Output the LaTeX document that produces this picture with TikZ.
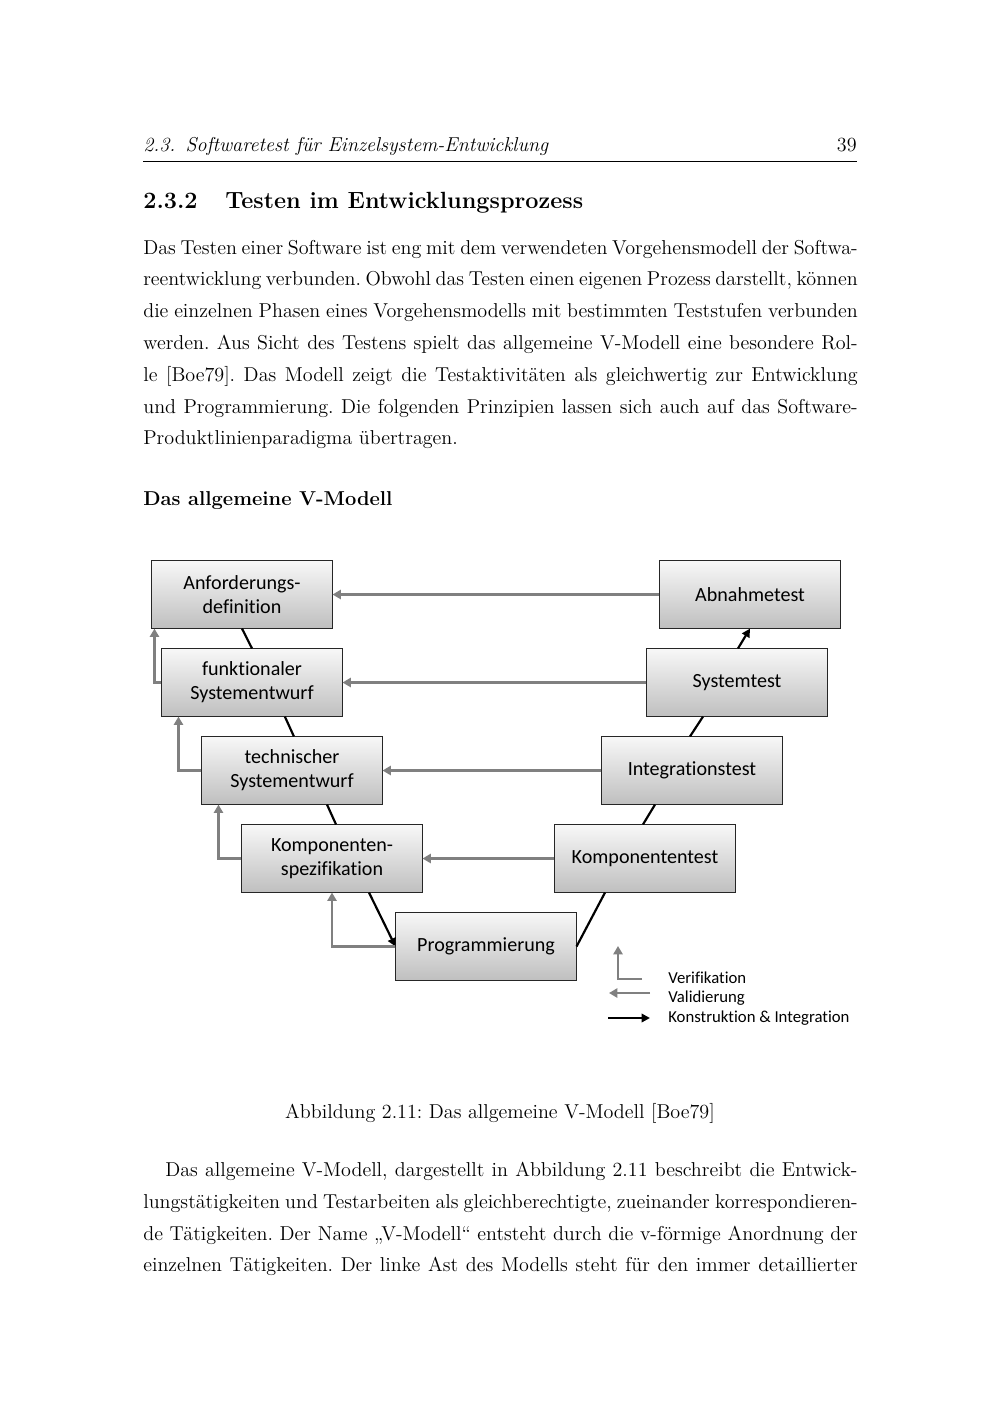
\documentclass[tikz,border=0pt]{standalone}
\usepackage{fontspec}
\newfontfamily\calibri[Ligatures=NoCommon]{Carlito}
\usetikzlibrary{arrows.meta}
\frenchspacing
\tikzset{
  phase/.style={draw=black!85, line width=0.6pt, top color=white!97!black,
    bottom color=black!25, minimum width=3.78cm, minimum height=1.41cm,
    align=center, inner sep=1pt, font=\calibri\fontsize{12}{14.4}\selectfont},
  build/.style={line width=1.3pt, black},
  buildtip/.style={build, -{Triangle[length=5pt,width=5pt]}},
  check/.style={line width=1.5pt, black!50, -{Triangle[length=5pt,width=5.5pt]}},
  legend/.style={anchor=west, inner sep=0pt, font=\calibri\fontsize{10}{12}\selectfont},
  txtline/.style={anchor=base west, inner sep=0pt, font=\fontsize{12}{14.5}\selectfont},
}
\begin{document}
\begin{tikzpicture}[x=0.021cm, y=-0.021cm]
                    \useasboundingbox (0,0) rectangle (1000,1414);
                    %%page head
                    \node[txtline] (head) at (143,152){\itshape 2.3.\hspace{6pt}Softwaretest für Einzelsystem-Entwicklung};
                    \node[txtline, anchor=base east] (pagenr) at (857,152){39};
                    \draw[line width=0.4pt] (143,161) -- (857,161);
                    \node[txtline, font=\fontsize{14}{17}\selectfont\bfseries] (secnr) at (143,209){2.3.2};
                    \node[txtline, font=\fontsize{14}{17}\selectfont\bfseries] (sec) at (225,209){Testen im Entwicklungsprozess};

                    %%first paragraph
                    \node[txtline] (p1) at (143,254){\makebox[15cm][s]{Das Testen einer Software ist eng mit dem verwendeten Vorgehensmodell der Softwa-}};
                    \node[txtline] (p2) at (143,285.8){\makebox[15cm][s]{reentwicklung verbunden. Obwohl das Testen einen eigenen Prozess darstellt, können}};
                    \node[txtline] (p3) at (143,317.6){\makebox[15cm][s]{die einzelnen Phasen eines Vorgehensmodells mit bestimmten Teststufen verbunden}};
                    \node[txtline] (p4) at (143,349.4){\makebox[15cm][s]{werden. Aus Sicht des Testens spielt das allgemeine V-Modell eine besondere Rol-}};
                    \node[txtline] (p5) at (143,381.2){\makebox[15cm][s]{le [Boe79]. Das Modell zeigt die Testaktivitäten als gleichwertig zur Entwicklung}};
                    \node[txtline] (p6) at (143,413){\makebox[15cm][s]{und Programmierung. Die folgenden Prinzipien lassen sich auch auf das Software-}};
                    \node[txtline] (p7) at (143,444.8){Produktlinienparadigma übertragen.};
                    \node[txtline, font=\fontsize{12}{14.5}\selectfont\bfseries] (sub) at (143,505){Das allgemeine V-Modell};

                    %%draw the boxes
                    \node[phase] (anf) at (242,594.5){Anforderungs-\\definition};
                    \node[phase] (funk) at (252,682.5){funktionaler\\Systementwurf};
                    \node[phase] (tech) at (292,770.5){technischer\\Systementwurf};
                    \node[phase] (kspez) at (332,858.5){Komponenten-\\spezifikation};
                    \node[phase] (prog) at (486,946.5){Programmierung};
                    \node[phase] (ktest) at (645,858.5){Komponententest};
                    \node[phase] (integ) at (692,770.5){Integrationstest};
                    \node[phase] (syst) at (737,682.5){Systemtest};
                    \node[phase] (abn) at (750,594.5){Abnahmetest};

                    %%draw the V
                    \draw[build] (anf.south) -- (funk.north);
                    \draw[build] ([xshift=0.69cm]funk.south) -- ([xshift=0.04cm]tech.north);
                    \draw[build] ([xshift=0.735cm]tech.south) -- ([xshift=0.084cm]kspez.north);
                    \draw[buildtip] ([xshift=0.777cm]kspez.south) -- (prog.west);
                    \draw[build] (prog.east) -- ([xshift=-0.84cm]ktest.south);
                    \draw[build] ([xshift=-0.042cm]ktest.north) -- ([xshift=-0.777cm]integ.south);
                    \draw[build] ([xshift=-0.042cm]integ.north) -- ([xshift=-0.714cm]syst.south);
                    \draw[buildtip] ([xshift=0.021cm]syst.north) -- (abn.south);

                    %%validation, right to left
                    \draw[check] (abn.west) -- (anf.east);
                    \draw[check] (syst.west) -- (funk.east);
                    \draw[check] (integ.west) -- (tech.east);
                    \draw[check] (ktest.west) -- (kspez.east);

                    %%verification, up the left side
                    \draw[check] (funk.west) -| ([xshift=0.063cm]anf.south west);
                    \draw[check] (tech.west) -| ([xshift=0.357cm]funk.south west);
                    \draw[check] (kspez.west) -| ([xshift=0.357cm]tech.south west);
                    \draw[check] (prog.west) -| (kspez.south);

                    %%legend
                    \coordinate (verB) at (642,979);
                    \coordinate (verA) at (618,979);
                    \coordinate (verT) at (618,946);
                    \draw[check] (verB) -- (verA) -- (verT);
                    \coordinate (valA) at (650,993);
                    \coordinate (valB) at (609,993);
                    \draw[check] (valA) -- (valB);
                    \coordinate (conA) at (608,1018);
                    \coordinate (conB) at (650,1018);
                    \draw[buildtip] (conA) -- (conB);
                    \node[legend] (leg1) at (668,978){Verifikation};
                    \node[legend] (leg2) at (668,998){Validierung};
                    \node[legend] (leg3) at (668,1018){Konstruktion \& Integration};

                    %%caption and next paragraph
                    \node[txtline, anchor=base] (cap) at (500,1118){Abbildung 2.11: Das allgemeine V-Modell [Boe79]};
                    \node[txtline] (q1) at (165,1176.7){\makebox[14.532cm][s]{Das allgemeine V-Modell, dargestellt in Abbildung 2.11 beschreibt die Entwick-}};
                    \node[txtline] (q2) at (143,1208.4){\makebox[15cm][s]{lungstätigkeiten und Testarbeiten als gleichberechtigte, zueinander korrespondieren-}};
                    \node[txtline] (q3) at (143,1240.1){\makebox[15cm][s]{de Tätigkeiten. Der Name „V-Modell“ entsteht durch die v-förmige Anordnung der}};
                    \node[txtline] (q4) at (143,1271.8){\makebox[15cm][s]{einzelnen Tätigkeiten. Der linke Ast des Modells steht für den immer detaillierter}};
                \end{tikzpicture}
\end{document}
